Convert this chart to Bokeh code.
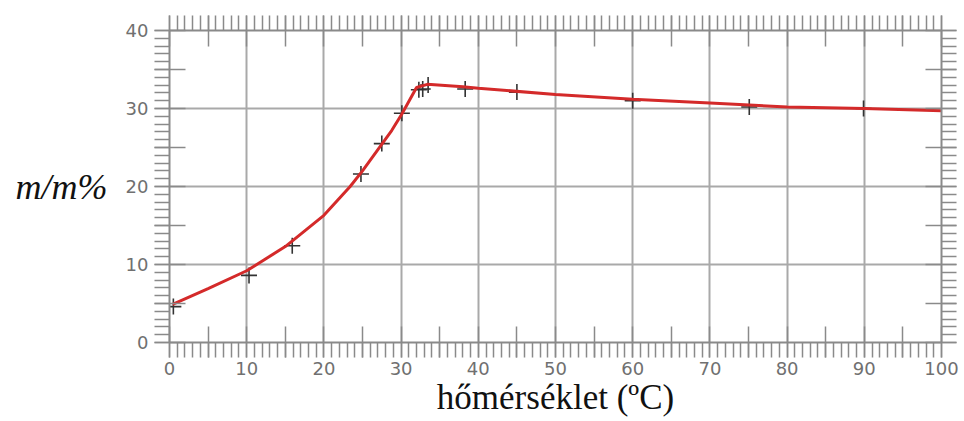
from bokeh.plotting import figure
from bokeh.models import LinearAxis, FixedTicker, Range1d, ColumnDataSource
from bokeh.embed import file_html
from bokeh.resources import INLINE

# ---- data ----
meas_t = [0.5, 10.3, 15.9, 24.8, 27.5, 30.1, 32.3, 32.8, 33.5, 38.3, 45.0, 60.0, 75.1, 89.9]
meas_s = [4.6, 8.6, 12.4, 21.6, 25.5, 29.4, 32.4, 32.5, 33.0, 32.5, 32.1, 31.0, 30.2, 30.0]

curve_t = [0.4, 5, 10, 15, 20, 23.4, 25, 28.8, 30.1, 32.0, 33.4, 38, 40, 50, 60, 70, 80, 90, 100]
curve_s = [4.9, 6.9, 9.2, 12.3, 16.3, 20.0, 22.0, 27.2, 29.3, 32.7, 33.1, 32.8, 32.6, 31.8, 31.2, 30.7, 30.2, 30.0, 29.7]

x_label_ticks = [0, 10, 20, 30, 40, 50, 60, 70, 80, 90, 100]
x_tick_labels = ["0", "10", "20", "30", "40", "50", "60", "70", "80", "90", "100"]
x_mid_ticks = [5, 15, 25, 35, 45, 55, 65, 75, 85, 95]
x_minor_ticks = list(range(0, 101))
x_grid = [10, 20, 30, 40, 50, 60, 70, 80, 90]

y_label_ticks = [0, 10, 20, 30, 40]
y_tick_labels = ["0", "10", "20", "30", "40"]
y_mid_ticks = [5, 15, 25, 35]
y_minor_ticks = list(range(0, 41))
y_grid = [10, 20, 30]

x_title = "hőmérséklet (ºC)"
y_title = "m/m%"

# ---- styling ----
TICK_FONT = "DejaVu Sans"
TICK_COLOR = "#707070"
AX_COLOR = "#8a8a8a"
GRID_COLOR = "#a9a9a9"
TITLE_FONT = "Liberation Serif"

p = figure(frame_width=772, frame_height=312,
           min_border_left=169, min_border_right=20, min_border_top=30, min_border_bottom=78,
           x_range=Range1d(0, 100), y_range=Range1d(0, 40),
           output_backend="svg", toolbar_location=None,
           x_axis_location=None, y_axis_location=None)
p.outline_line_color = None
p.background_fill_color = "white"
p.border_fill_color = "white"


def make_axis(ticks_lab, labels, mids, minors, show_labels):
    ax = LinearAxis()
    ax.ticker = FixedTicker(ticks=sorted(ticks_lab + mids), minor_ticks=minors)
    if show_labels:
        overrides = {t: l for t, l in zip(ticks_lab, labels)}
    else:
        overrides = {t: "" for t in ticks_lab}
    for m in mids:
        overrides[m] = ""
    ax.major_label_overrides = overrides
    ax.axis_line_color = AX_COLOR
    ax.axis_line_width = 2
    ax.major_tick_line_color = AX_COLOR
    ax.major_tick_line_width = 1.5
    ax.major_tick_in = 16
    ax.major_tick_out = 15
    ax.minor_tick_line_color = AX_COLOR
    ax.minor_tick_line_width = 1.5
    ax.minor_tick_in = 0
    ax.minor_tick_out = 15
    ax.major_label_text_font = TICK_FONT
    if show_labels:
        ax.major_label_text_font_size = "18px"
        ax.major_label_text_color = TICK_COLOR
        ax.major_label_standoff = 4
    else:
        ax.major_label_text_font_size = "10px"
        ax.major_label_standoff = 0
    return ax


xb = make_axis(x_label_ticks, x_tick_labels, x_mid_ticks, x_minor_ticks, True)
xb.axis_label = x_title
xb.axis_label_text_font = TITLE_FONT
xb.axis_label_text_font_style = "normal"
xb.axis_label_text_font_size = "35px"
xb.axis_label_text_color = "#111111"
xb.axis_label_standoff = 0
p.add_layout(xb, "below")

p.add_layout(make_axis(x_label_ticks, x_tick_labels, x_mid_ticks, x_minor_ticks, False), "above")

yl = make_axis(y_label_ticks, y_tick_labels, y_mid_ticks, y_minor_ticks, True)
yl.major_label_standoff = 6
yl.axis_label = y_title
yl.axis_label_orientation = "horizontal"
yl.axis_label_text_font = TITLE_FONT
yl.axis_label_text_font_style = "italic"
yl.axis_label_text_font_size = "36px"
yl.axis_label_text_color = "#111111"
yl.axis_label_standoff = 15
p.add_layout(yl, "left")

p.add_layout(make_axis(y_label_ticks, y_tick_labels, y_mid_ticks, y_minor_ticks, False), "right")

p.xgrid.ticker = FixedTicker(ticks=x_grid)
p.ygrid.ticker = FixedTicker(ticks=y_grid)
for g in (p.xgrid, p.ygrid):
    g.grid_line_color = GRID_COLOR
    g.grid_line_width = 2

src_meas = ColumnDataSource(dict(t=meas_t, s=meas_s))
src_curve = ColumnDataSource(dict(t=curve_t, s=curve_s))

p.scatter("t", "s", source=src_meas, marker="cross", size=16,
          line_color="#333333", line_width=1.6)
p.line("t", "s", source=src_curve, line_color="#d42a2a", line_width=3)

open("out.html", "w").write(file_html(p, INLINE))
